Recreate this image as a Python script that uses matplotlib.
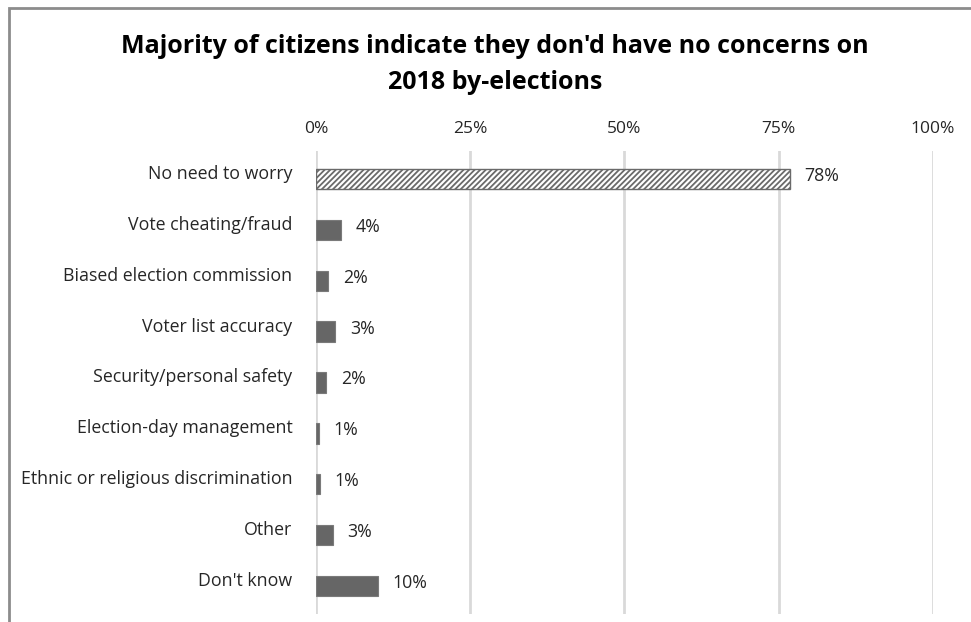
import matplotlib.pyplot as plt
import matplotlib.transforms as mtransforms
from matplotlib.patches import Rectangle

# Survey answers, top to bottom
categories = ['No need to worry', 'Vote cheating/fraud', 'Biased election commission',
              'Voter list accuracy', 'Security/personal safety', 'Election-day management',
              'Ethnic or religious discrimination', 'Other', "Don't know"]
shares = [76.8, 4.0, 2.0, 3.1, 1.7, 0.5, 0.6, 2.7, 10.0]
share_labels = ['78%', '4%', '2%', '3%', '2%', '1%', '1%', '3%', '10%']
ticks = [0, 25, 50, 75, 100]
tick_labels = ['0%', '25%', '50%', '75%', '100%']

plt.rcParams['font.family'] = ['Open Sans', 'DejaVu Sans']
plt.rcParams['hatch.linewidth'] = 1.3

fig = plt.figure(figsize=(9.71, 6.22), dpi=100)
ax = fig.add_axes([0.3254, 0.0129, 0.6354, 0.7443])

pos = list(range(len(categories)))
for i, (v, lab) in enumerate(zip(shares, share_labels)):
    if i == 0:
        ax.barh(i, v, height=0.4, color='white', edgecolor='#6a6a6a', hatch='//////',
                linewidth=1.0, zorder=3)
    else:
        ax.barh(i, v, height=0.4, color='#666666', edgecolor='#7a7a7a',
                linewidth=0.8, zorder=3)
    ax.text(v + 2.4, i - 0.06, lab, va='center', ha='left', fontsize=12.8, color='#262626')

ax.set_ylim(len(categories) - 0.45, -0.55)
ax.set_xlim(0, 100)
ax.set_xticks(ticks)
ax.set_xticklabels(tick_labels, fontsize=12.5, color='#262626')
ax.xaxis.tick_top()
ax.tick_params(axis='x', length=0, pad=10)
ax.set_yticks(pos)
ax.set_yticklabels(categories, fontsize=12.8, color='#262626')
ax.tick_params(axis='y', length=0, pad=17)
shift = mtransforms.ScaledTranslation(0, 7 / 100, fig.dpi_scale_trans)
for t in ax.get_yticklabels():
    t.set_transform(t.get_transform() + shift)

ax.grid(axis='x', color='#d9d9d9', linewidth=2, zorder=0)
ax.set_axisbelow(True)
for s in ax.spines.values():
    s.set_visible(False)

fig.text(0.51, 0.896, "Majority of citizens indicate they don'd have no concerns on\n2018 by-elections",
         ha='center', va='center', fontsize=18, fontweight='bold', linespacing=1.6)

# outer frame, only top and left edges are visible in the crop
fig.patches.append(Rectangle((9 / 971, -0.1), 1.2, 1.1 - 8 / 622, transform=fig.transFigure,
                             fill=False, edgecolor='#8c8c8c', linewidth=2))

plt.savefig('out.png', dpi=100)
